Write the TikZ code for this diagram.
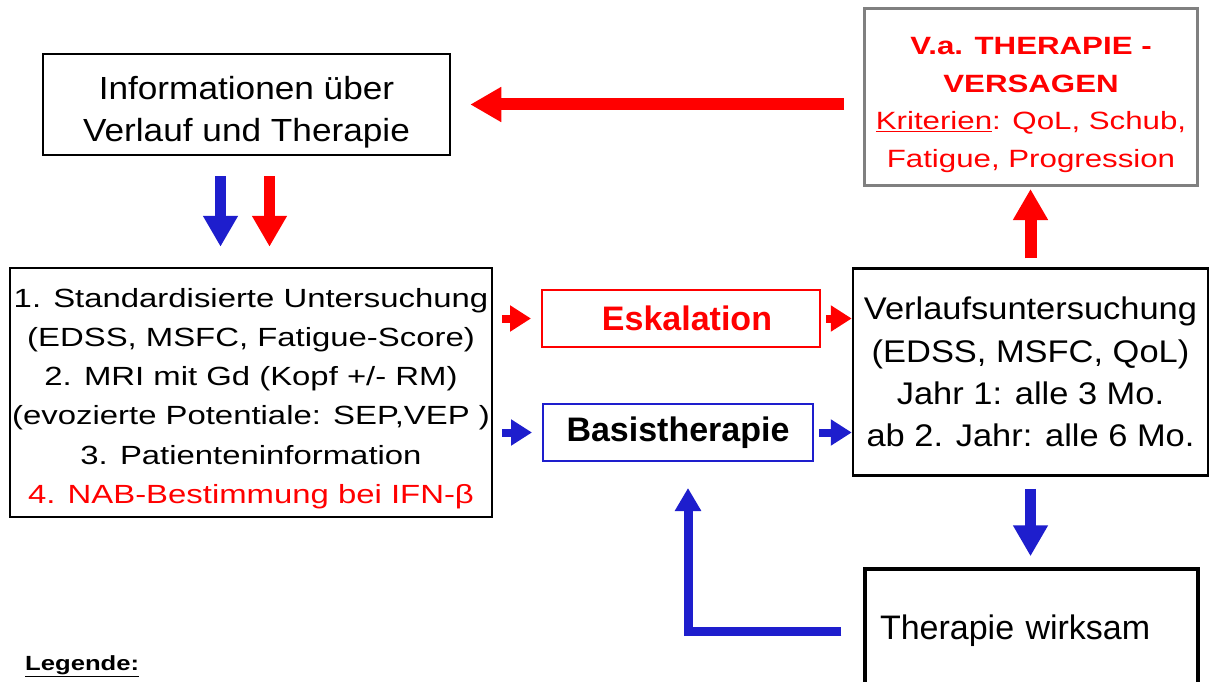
\documentclass[tikz,border=0pt]{standalone}
\usepackage{fontspec}
\setmainfont{Liberation Sans}
\newfontfamily\widesans[FakeStretch=1.25]{Liberation Sans}
\newfontfamily\midsans[FakeStretch=1.1]{Liberation Sans}
\usetikzlibrary{arrows.meta,positioning}
\definecolor{flowblue}{RGB}{30,30,205}
\definecolor{boxgray}{RGB}{128,128,128}

\begin{document}
\begin{tikzpicture}[x=1pt, y=-1pt,
  every box/.style={draw, line width=2.5pt, align=center, inner sep=1pt},
  big arrow/.style={line width=11pt, -{Triangle[width=33pt,length=31pt]}},
  small arrow/.style={line width=8pt, -{Triangle[width=25pt,length=21pt]}}]

\clip (0,0) rectangle (1209,682);
\fill [white] (0,0) rectangle (1209,682);

% boxes
\node [every box, minimum width=407pt, minimum height=101pt,
  font=\midsans\fontsize{32}{42}\selectfont] (info) at (246.5,104.5)
  {\rule{0pt}{38pt}Informationen über\\Verlauf und Therapie};
\node [every box, minimum width=482pt, minimum height=249pt,
  font=\widesans\fontsize{26.3}{39.2}\selectfont] (exam) at (251,392.5)
  {\rule{0pt}{31pt}1. Standardisierte Untersuchung\\(EDSS, MSFC, Fatigue-Score)\\2. MRI mit Gd (Kopf +/- RM)\\(evozierte Potentiale: SEP,VEP )\\3. Patienteninformation\\\textcolor{red}{4. NAB-Bestimmung bei IFN-β}};
\node [every box, draw=red, line width=2pt, text=red, minimum width=278pt, minimum height=57pt,
  font=\bfseries\fontsize{34}{40}\selectfont] (eska) at (681,318.5) {\hspace*{12pt}Eskalation};
\node [every box, draw=flowblue, line width=2pt, minimum width=270pt, minimum height=57pt,
  font=\bfseries\fontsize{34}{40}\selectfont] (basis) at (678,432.5) {Basistherapie};
\node [every box, minimum width=355pt, minimum height=207pt,
  font=\midsans\fontsize{31.3}{42.3}\selectfont] (verl) at (1030.5,372)
  {Verlaufsuntersuchung\\(EDSS, MSFC, QoL)\\Jahr 1: alle 3 Mo.\\ab 2. Jahr: alle 6 Mo.};
\node [every box, draw=boxgray, line width=3pt, text=red, minimum width=333pt, minimum height=177pt,
  font=\widesans\fontsize{25}{37.7}\selectfont] (fail) at (1031,97)
  {\rule{0pt}{33pt}\textbf{V.a. THERAPIE -}\\\textbf{VERSAGEN}\\\underline{Kriterien}: QoL, Schub,\\Fatigue, Progression};
\node [every box, line width=3.5pt, minimum width=333pt, minimum height=124pt,
  text width=303pt, align=left, inner xsep=15pt,
  font=\fontsize{34}{40}\selectfont] (done) at (1031.5,631) {Therapie wirksam};
\node [anchor=base west, inner sep=0pt, font=\widesans\bfseries\fontsize{20.5}{26}\selectfont]
  (legend) at (25,670) {\underline{Legende:}};

% connectors
\coordinate (blue in) at ([xshift=-26pt]info.south);
\coordinate (red in) at ([xshift=23pt]info.south);
\coordinate (back) at ([xshift=10pt]basis.south);

\draw [big arrow, red, line width=12pt, shorten <=19pt, shorten >=19pt] (fail.west |- info.east) -- (info.east);
\draw [big arrow, flowblue, shorten <=20pt, shorten >=20pt] (blue in) -- (blue in |- exam.north);
\draw [big arrow, red, shorten <=20pt, shorten >=20pt] (red in) -- (red in |- exam.north);
\draw [big arrow, red, line width=12pt, shorten <=9pt, shorten >=2pt] (verl.north) -- (verl.north |- fail.south);
\draw [big arrow, flowblue, shorten <=12pt, shorten >=11pt] (verl.south) -- (verl.south |- done.north);
\draw [flowblue, line width=9pt, -{Triangle[width=25pt,length=23pt]}, shorten <=22pt, shorten >=26pt]
  (done.west) -| (back);

\foreach \stage/\tint in {eska/red, basis/flowblue} {
  \draw [small arrow, \tint, shorten <=9pt, shorten >=10pt] (exam.east |- \stage.west) -- (\stage.west);
  \draw [small arrow, \tint, shorten <=5pt] (\stage.east) -- (verl.west |- \stage.east);
}
\end{tikzpicture}
\end{document}
